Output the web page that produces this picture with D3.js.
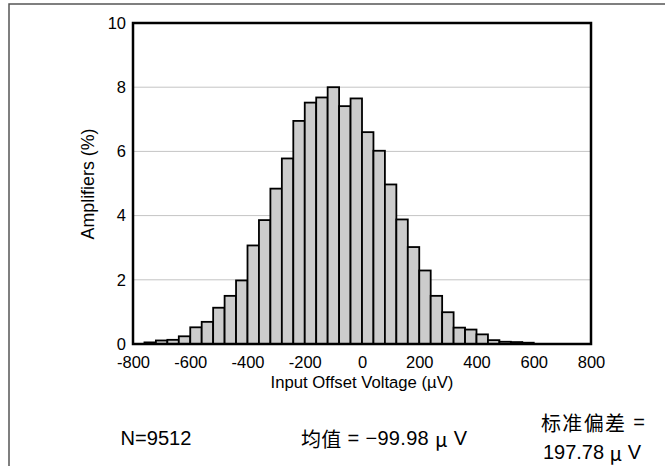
<!DOCTYPE html>
<html>
<head>
<meta charset="utf-8">
<script src="https://cdn.jsdelivr.net/npm/d3@7"></script>
<style>
  html, body { margin: 0; padding: 0; background: #fff; }
  svg { display: block; }
  text { font-family: Arial, "Liberation Sans", sans-serif; fill: #000; }
  .cjk { font-family: "Noto Sans CJK SC", sans-serif; }
</style>
</head>
<body>
<script>
// ---- data ----
const binStart = -800;
const binWidth = 40;
const percents = [0, 0.05, 0.11, 0.13, 0.24, 0.52, 0.69, 1.13, 1.5, 1.98,
                  3.07, 3.86, 4.84, 5.78, 6.95, 7.52, 7.68, 8.0, 7.41, 7.65,
                  6.6, 6.02, 4.97, 3.88, 3.02, 2.29, 1.5, 0.99, 0.51, 0.45,
                  0.3, 0.12, 0.07, 0.06, 0.04, 0, 0, 0, 0, 0];
const xTicks = [-800, -600, -400, -200, 0, 200, 400, 600, 800];
const xTickLabels = ["-800", "-600", "-400", "-200", "0", "200", "400", "600", "800"];
const yTicks = [0, 2, 4, 6, 8, 10];
const yTickLabels = ["0", "2", "4", "6", "8", "10"];
const xTitle = "Input Offset Voltage (\u00B5V)";
const yTitle = "Amplifiers (%)";
const statN = "N=9512";
// stat lines as [text, isCJK] pieces
const statMean = [["均值", true], [" = \u221299.98 ", false], ["\u03BC", true], [" V", false]];
const statSd1 = [["标准偏差", true], [" =", false]];
const statSd2 = [["197.78 ", false], ["\u03BC", true], [" V", false]];

// ---- layout ----
const W = 665, H = 466;
const m = { left: 133, right: 591, top: 23, bottom: 344 };

const svg = d3.select("body").append("svg").attr("width", W).attr("height", H);

const x = d3.scaleLinear().domain([-800, 800]).range([m.left, m.right]);
const y = d3.scaleLinear().domain([0, 10]).range([m.bottom, m.top]);

// outer frame (top + left)
svg.append("path")
  .attr("d", `M9,${H} L9,4 L${W},4`)
  .attr("fill", "none").attr("stroke", "#555").attr("stroke-width", 1.5);

// gridlines
svg.append("g").selectAll("line").data(yTicks.filter(d => d > 0 && d < 10)).join("line")
  .attr("x1", m.left).attr("x2", m.right)
  .attr("y1", d => y(d)).attr("y2", d => y(d))
  .attr("stroke", "#c4c4c4").attr("stroke-width", 1);

// bars
const bins = percents.map((v, i) => ({ x0: binStart + i * binWidth, x1: binStart + (i + 1) * binWidth, v }));
svg.append("g").selectAll("rect").data(bins.filter(d => d.v > 0)).join("rect")
  .attr("x", d => x(d.x0))
  .attr("width", d => x(d.x1) - x(d.x0))
  .attr("y", d => y(d.v))
  .attr("height", d => y(0) - y(d.v))
  .attr("fill", "#cccccc").attr("stroke", "#000").attr("stroke-width", 1.8);

// plot frame
svg.append("rect")
  .attr("x", m.left).attr("y", m.top)
  .attr("width", m.right - m.left).attr("height", m.bottom - m.top)
  .attr("fill", "none").attr("stroke", "#000").attr("stroke-width", 2.5);

// axes (labels only)
const xAxis = d3.axisBottom(x).tickValues(xTicks).tickSize(0).tickPadding(12)
  .tickFormat((d, i) => xTickLabels[i]);
const gx = svg.append("g").attr("transform", `translate(0,${m.bottom})`).call(xAxis);
gx.select(".domain").remove();
gx.selectAll("text").style("font-family", "Arial, 'Liberation Sans', sans-serif").style("font-size", "16.5px").attr("fill", "#000");

const yAxis = d3.axisLeft(y).tickValues(yTicks).tickSize(0).tickPadding(7)
  .tickFormat((d, i) => yTickLabels[i]);
const gy = svg.append("g").attr("transform", `translate(${m.left},0)`).call(yAxis);
gy.select(".domain").remove();
gy.selectAll("text").style("font-family", "Arial, 'Liberation Sans', sans-serif").style("font-size", "16.5px").attr("fill", "#000");

// fit font size so a text reaches a target width
function fitText(sel, target) {
  const w = sel.node().getComputedTextLength();
  const fs = parseFloat(sel.style("font-size"));
  sel.style("font-size", (fs * target / w).toFixed(2) + "px");
}

// titles
const xt = svg.append("text").attr("x", 362).attr("y", 382).attr("text-anchor", "middle")
  .attr("dominant-baseline", "central").style("font-size", "16px").text(xTitle);
fitText(xt, 183);
const yt = svg.append("text").attr("transform", "translate(88,184) rotate(-90)").attr("text-anchor", "middle")
  .attr("dominant-baseline", "central").style("font-size", "16px").text(yTitle);
fitText(yt, 111);

// stats
const nt = svg.append("text").attr("x", 156).attr("y", 438).attr("text-anchor", "middle")
  .attr("dominant-baseline", "central").style("font-size", "20px").text(statN);
fitText(nt, 71);

function statLine(pieces, cx, cy, len) {
  const t = svg.append("text").attr("x", cx).attr("y", cy).attr("text-anchor", "middle")
    .attr("dominant-baseline", "central")
    .attr("textLength", len).attr("lengthAdjust", "spacing")
    .style("white-space", "pre");
  pieces.forEach(([s, cjk]) => {
    t.append("tspan").attr("class", cjk ? "cjk" : null)
      .style("font-size", cjk ? "20px" : "20px").text(s);
  });
}
statLine(statMean, 384, 438, 166);
statLine(statSd1, 593, 422, 104);
statLine(statSd2, 592, 452, 98);
</script>
</body>
</html>
